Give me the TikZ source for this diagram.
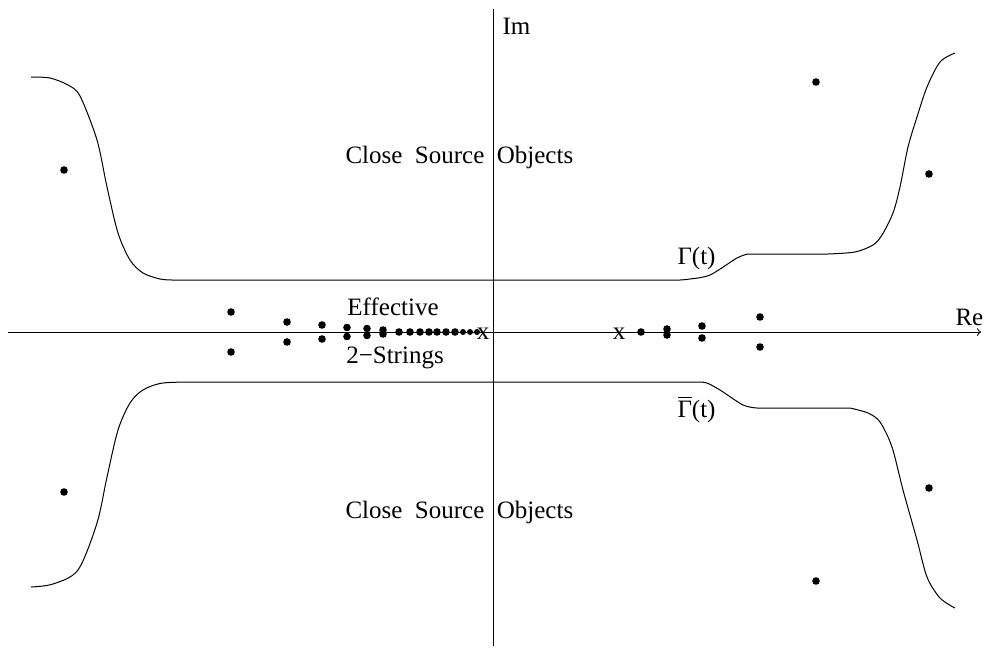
\documentclass[tikz,border=0pt]{standalone}
\usepackage{fontspec}
\setmainfont{Liberation Serif}

\begin{document}
\begin{tikzpicture}[x=0.5pt, y=-0.5pt, line width=0.5pt]
\tikzstyle{dot}=[circle, fill, minimum size=3.8pt, inner sep=0pt]
\tikzstyle{tiny}=[circle, fill, minimum size=3pt, inner sep=0pt]
\tikzstyle{lbl}=[font=\fontsize{12.5}{14}\selectfont, inner sep=0pt]
\useasboundingbox (0,0) rectangle (987,649);

% axes
\coordinate (W) at (8,332);
\coordinate (E) at (981,332);
\coordinate (S) at (493,646);
\coordinate (N) at (493,9);
\draw[->] (W) -- (E);
\draw (S) -- (N);
\node[lbl, anchor=base west] (re) at (955,325) {Re};
\node[lbl, anchor=base west] (im) at (502,34) {Im};

% contours
\draw plot[smooth, tension=0.5] coordinates {(31,77) (50,78) (68,85) (80,96) (97,140) (107,187) (118,233) (130,260) (143,273) (160,279) (172,280)}
  -- plot[smooth, tension=0.5] coordinates {(680,280) (690,279) (710,275) (737,258) (748,254)}
  -- plot[smooth, tension=0.5] coordinates {(828,254) (855,252) (873,245) (882,235) (893,213) (900,187) (908,147) (917,117) (927,87) (940,62) (955,53)};
\draw plot[smooth, tension=0.5] coordinates {(31,587) (53,584) (78,570) (97,523) (107,477) (118,430) (130,403) (143,390) (163,383) (200,382)}
  -- plot[smooth, tension=0.5] coordinates {(700,382) (707,383) (720,390) (743,405) (757,408)}
  -- plot[smooth, tension=0.5] coordinates {(850,408) (868,413) (880,422) (892,447) (903,490) (917,540) (927,577) (940,598) (955,608)};
\node[lbl, anchor=base west] (gam) at (677,264) {Γ(t)};
\node[lbl, anchor=base west] (gambar) at (677,417) {$\overline{\mbox{Γ}}$(t)};

% far objects
\foreach \x/\y [count=\i] in {64/170, 64/492, 816/82, 929/174, 929/488, 816/581} {
\node[dot] (far\i) at (\x,\y) {};
}

% pairs
\foreach \x/\d in {231/20, 287/10, 322/7, 347/4.5, 367/3.5, 383/2, 667/3, 702/6, 760/15} {
\node[dot] (up\x) at (\x,332-\d) {};
\node[dot] (dn\x) at (\x,332+\d) {};
}
\foreach \x in {399,410,420,429,437,446,455,641} {
\node[dot] (on\x) at (\x,332) {};
}
\foreach \x in {463,470,477} {
\node[tiny] (on\x) at (\x,332) {};
}
\node[lbl, anchor=base] (xl) at (483,339) {x};
\node[lbl, anchor=base] (xr) at (619,339) {x};

\node[lbl, anchor=base] (eff) at (393,315) {Effective};
\node[lbl, anchor=base] (str) at (395,363) {2−Strings};
\node[lbl, anchor=base west] (cso) at (345,163) {Close\enspace Source\enspace Objects};
\node[lbl, anchor=base west] (csol) at (345,518) {Close\enspace Source\enspace Objects};

\end{tikzpicture}
\end{document}
